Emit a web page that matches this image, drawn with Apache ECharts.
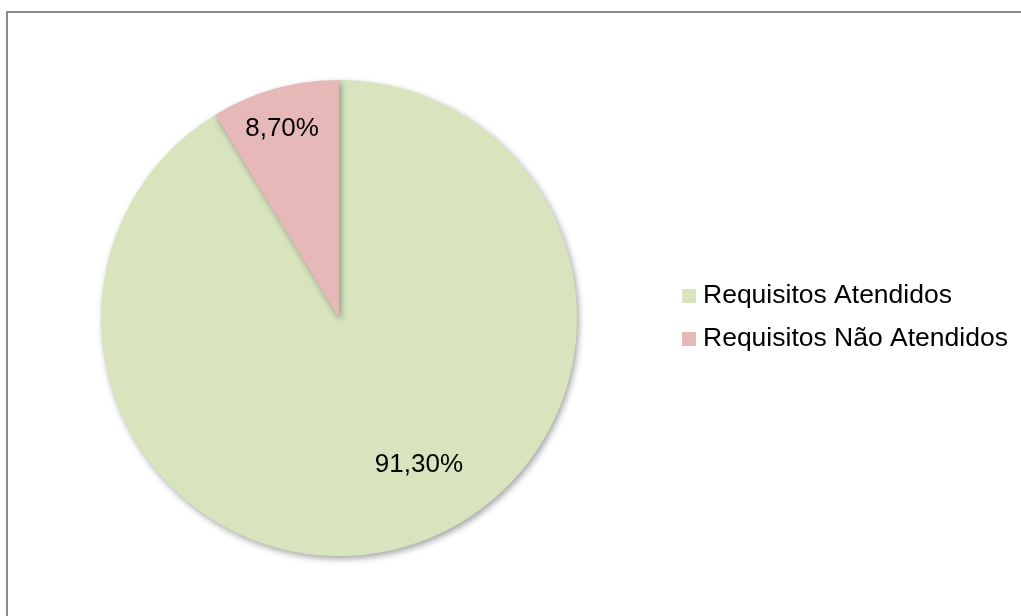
<!DOCTYPE html>
<html>
<head>
<meta charset="utf-8">
<script src="https://cdn.jsdelivr.net/npm/echarts@6/dist/echarts.min.js"></script>
<style>
html,body{margin:0;padding:0;background:#fff;}
#chart{width:1021px;height:616px;}
</style>
</head>
<body>
<div id="chart"></div>
<script>
const categories = ["Requisitos Atendidos", "Requisitos Não Atendidos"];
const values = [91.30, 8.70];
const colors = ["#D7E4BD", "#E6B9B8"];

const chart = echarts.init(document.getElementById('chart'));
const labelShift = [{dx: 47, dy: 29}, {dx: -24, dy: -72}];
chart.setOption({
  animation: false,
  graphic: [{
    type: 'rect',
    shape: {x: 7, y: 12, width: 1100, height: 700},
    style: {fill: 'none', stroke: '#8a8a8a', lineWidth: 2},
    silent: true
  }],
  legend: {
    orient: 'vertical',
    left: 682,
    top: 281,
    padding: 0,
    icon: 'rect',
    itemWidth: 14,
    itemHeight: 14,
    itemGap: 13,
    data: categories,
    textStyle: {fontFamily: 'Liberation Sans', fontSize: 26.5, color: '#000', lineHeight: 30, padding: [0,0,0,2]}
  },
  series: [{
    type: 'pie',
    center: [339, 318],
    radius: [0, 238],
    startAngle: 90,
    clockwise: true,
    data: categories.map((c, i) => ({name: c, value: values[i], itemStyle: {color: colors[i]}})),
    itemStyle: {shadowBlur: 6, shadowOffsetX: 2, shadowOffsetY: 3, shadowColor: 'rgba(0,0,0,0.35)'},
    label: {
      position: 'inside',
      fontFamily: 'Liberation Sans',
      fontSize: 26,
      color: '#000',
      formatter: p => p.value.toFixed(2).replace('.', ',') + '%'
    },
    labelLayout: p => labelShift[p.dataIndex],
    labelLine: {show: false},
    emphasis: {disabled: true}
  }]
});
</script>
</body>
</html>
